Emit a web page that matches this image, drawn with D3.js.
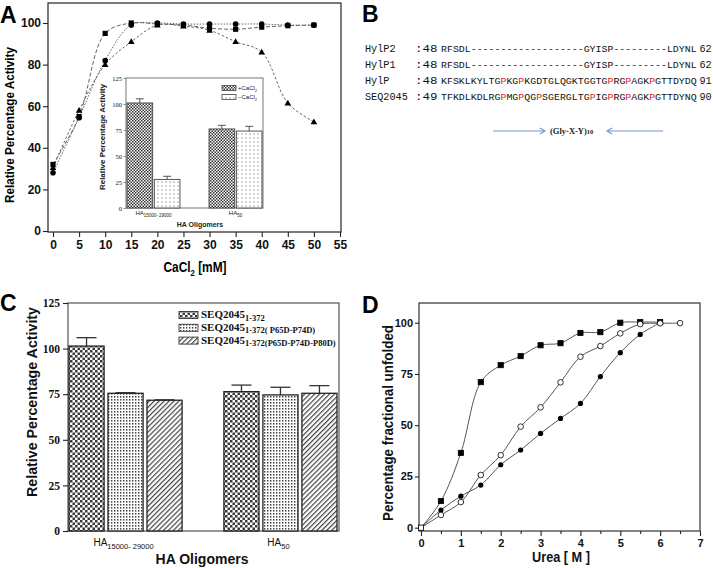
<!DOCTYPE html>
<html><head><meta charset="utf-8">
<script src="https://cdn.jsdelivr.net/npm/d3@7"></script>
<style>body{margin:0;background:#fff}svg{display:block}</style>
</head><body><svg id="c" width="713" height="568"></svg>
<script>
// ---------- Panel A data ----------
const caX = [0,5,10,15,20,25,30,35,40,45,50];
const caSquares   = [32,55,95,100,99.5,99,97.5,97,98,98.7,99];
const caCircles   = [28,54.5,82,99,100,99.5,99.5,99.5,99.5,99,99];
const caTriangles = [30.5,58,80,91,99,98.5,96.5,91,86,61.5,52.5];
const aXTicks = [0,5,10,15,20,25,30,35,40,45,50,55];
const aYTicks = [0,20,40,60,80,100];
// inset
const insetGroupMain = ["HA","HA"];
const insetGroupSub = ["15000- 29000","50"];
const insetSeries = ["+CaCl","\u2212CaCl"];
const insetPlus = [101,76];
const insetPlusErr = [4,3.5];
const insetMinus = [27.5,74];
const insetMinusErr = [3,4.5];
const insetYTicks = [0,25,50,75,100,125];
// ---------- Panel B data ----------
const seqNames = ["HylP2","HylP1","HylP","SEQ2045"];
const seqStart = [":48",":48",":48",":49"];
const seqs = [
 "RFSDL-------------------GYISP---------LDYNL",
 "RFSDL-------------------GYISP---------LDYNL",
 "KFSKLKYLTGPKGPKGDTGLQGKTGGTGPRGPAGKPGTTDYDQ",
 "TFKDLKDLRGPMGPQGPSGERGLTGPIGPRGPAGKPGTTDYNQ"];
const seqEnd = ["62","62","91","90"];
const highlightP = [false,false,true,true];
// ---------- Panel C data ----------
const cGroupMain = ["HA","HA"];
const cGroupSub = ["15000- 29000","50"];
const cSeriesMain = ["SEQ2045","SEQ2045","SEQ2045"];
const cSeriesSub = ["1-372","1-372( P65D-P74D)","1-372(P65D-P74D-P80D)"];
const cWT = [101.4,76.4], cWTErr = [4.6,3.6];
const cD2 = [75.5,74.6], cD2Err = [0.3,4.2];
const cD3 = [71.7,75.5], cD3Err = [0.2,4.2];
const cYTicks = [0,25,50,75,100,125];
// ---------- Panel D data ----------
const ureaX = [0,0.5,1,1.5,2,2.5,3,3.5,4,4.5,5,5.5,6,6.5];
const dSquares = [0,13,36.5,71,79.3,83.7,89,90,95,95.4,100,100.3,100.3];
const dOpen    = [0,6.2,12.5,25.7,35.4,49.3,58.7,70.9,83.4,88.6,94.8,99.3,99.7,99.8];
const dFilled  = [0,8.6,15.4,20.8,30.7,37.9,46,53.3,60.6,73.7,85.4,94.3,100];
const dXTicks = [0,1,2,3,4,5,6,7];
const dXMinor = [0.5,1.5,2.5,3.5,4.5,5.5,6.5];
const dYTicks = [0,25,50,75,100];

const SANS = "'Liberation Sans', Arial, sans-serif";
const SERIF = "'Liberation Serif', 'Times New Roman', serif";
const MONO = "'Liberation Mono', 'Courier New', monospace";

const svg = d3.select("#c");
svg.append("rect").attr("width",713).attr("height",568).attr("fill","#fff");
const defs = svg.append("defs");
function pat(id,w,h,build){const p=defs.append("pattern").attr("id",id).attr("width",w).attr("height",h).attr("patternUnits","userSpaceOnUse");p.append("rect").attr("width",w).attr("height",h).attr("fill","#fff");build(p);}
pat("checker",5,5,p=>{p.append("rect").attr("width",2.5).attr("height",2.5).attr("fill","#3a3a3a");p.append("rect").attr("x",2.5).attr("y",2.5).attr("width",2.5).attr("height",2.5).attr("fill","#3a3a3a");});
pat("checkerS",3,3,p=>{p.append("rect").attr("width",1.5).attr("height",1.5).attr("fill","#333");p.append("rect").attr("x",1.5).attr("y",1.5).attr("width",1.5).attr("height",1.5).attr("fill","#333");});
pat("griddot",3,3,p=>{p.append("rect").attr("width",1.4).attr("height",1.6).attr("fill","#444");});
pat("diag",3.5,3.5,p=>{p.attr("patternTransform","rotate(45)");p.append("rect").attr("width",1.2).attr("height",3.5).attr("fill","#444");});
pat("dots",4,4,p=>{p.append("rect").attr("x",1.5).attr("y",1.5).attr("width",1).attr("height",1).attr("fill","#555");});

function letter(t,x,y){svg.append("text").attr("x",x).attr("y",y).text(t).attr("font-family",SANS).attr("font-weight","bold").attr("font-size",23);}
letter("A",0,23);letter("B",362,22);letter("C",0,311);letter("D",362,313);

function styleAxis(g,fam,size,weight){g.select(".domain").remove();g.selectAll("line").attr("stroke","#222").attr("stroke-width",1.1);g.selectAll("text").attr("font-family",fam).attr("font-size",size).attr("font-weight",weight).attr("fill","#111");}

// ================= Panel A =================
{
 const ax = d3.scaleLinear().domain([0,55]).range([53,340]);
 const ay = d3.scaleLinear().domain([0,100]).range([231,23]);
 const gA = svg.append("g");
 gA.append("rect").attr("x",48).attr("y",3).attr("width",293).attr("height",229).attr("fill","none").attr("stroke","#333").attr("stroke-width",1.3);
 const xg = gA.append("g").attr("transform","translate(0,232)").call(d3.axisBottom(ax).tickValues(aXTicks).tickSize(5).tickSizeOuter(0).tickPadding(3));
 styleAxis(xg,SANS,12,"bold");
 const yg = gA.append("g").attr("transform","translate(48,0)").call(d3.axisLeft(ay).tickValues(aYTicks).tickSize(5).tickSizeOuter(0).tickPadding(2));
 styleAxis(yg,SANS,12,"bold");
 gA.append("text").attr("transform","translate(14,125) rotate(-90)").attr("text-anchor","middle").attr("font-family",SANS).attr("font-weight","bold").attr("font-size",13.5).attr("textLength",156).attr("lengthAdjust","spacingAndGlyphs").text("Relative Percentage Activity");
 const xt = gA.append("text").attr("transform","translate(195,272) scale(0.85,1)").attr("text-anchor","middle").attr("font-family",SANS).attr("font-weight","bold").attr("font-size",14);
 xt.append("tspan").text("CaCl");xt.append("tspan").attr("font-size",9).attr("dy",4).text("2");xt.append("tspan").attr("dy",-4).text(" [mM]");
 const line = d3.line().x((d,i)=>ax(caX[i])).y(d=>ay(d)).curve(d3.curveCatmullRom.alpha(0.5));
 const series = [[caSquares,"4,2","sq"],[caCircles,"1.5,1.5","ci"],[caTriangles,"2.5,2","tr"]];
 series.forEach(([vals,dash])=>gA.append("path").attr("d",line(vals)).attr("fill","none").attr("stroke","#666").attr("stroke-width",1).attr("stroke-dasharray",dash));
 series.forEach(([vals,dash,m])=>{
  vals.forEach((v,i)=>{const x=ax(caX[i]),y=ay(v);
   if(m==="sq")gA.append("rect").attr("x",x-2.6).attr("y",y-2.6).attr("width",5.2).attr("height",5.2).attr("fill","#000");
   else if(m==="ci")gA.append("circle").attr("cx",x).attr("cy",y).attr("r",2.8).attr("fill","#000");
   else gA.append("path").attr("d",`M${x},${y-3.4}L${x+3.3},${y+2.4}L${x-3.3},${y+2.4}Z`).attr("fill","#000");});
 });
 // inset
 const ix0=126, ix1=263, iy0=78, iy1=208;
 gA.append("rect").attr("x",ix0).attr("y",iy0).attr("width",ix1-ix0).attr("height",iy1-iy0).attr("fill","#fff").attr("stroke","#777").attr("stroke-width",1);
 const iy = d3.scaleLinear().domain([0,125]).range([iy1,iy0]);
 const ixb = d3.scaleBand().domain([0,1]).range([127,262]).paddingInner(0.354);
 const ixs = d3.scaleBand().domain([0,1]).range([0,ixb.bandwidth()]).paddingInner(0.06);
 const iyg = gA.append("g").attr("transform",`translate(${ix0},0)`).call(d3.axisLeft(iy).tickValues(insetYTicks).tickSize(2.5).tickSizeOuter(0).tickPadding(1.5));
 styleAxis(iyg,SERIF,6.5,"normal"); iyg.selectAll("line").attr("stroke","#777").attr("stroke-width",0.8);
 const insetData=[[insetPlus,insetPlusErr,"url(#checkerS)"],[insetMinus,insetMinusErr,"url(#dots)"]];
 insetData.forEach(([vals,errs,fill],s)=>{
  vals.forEach((v,gi)=>{const x=ixb(gi)+ixs(s), w=ixs.bandwidth();
   gA.append("line").attr("x1",x+w/2).attr("x2",x+w/2).attr("y1",iy(v)).attr("y2",iy(v+errs[gi])).attr("stroke","#555").attr("stroke-width",1);
   gA.append("line").attr("x1",x+w/2-4).attr("x2",x+w/2+4).attr("y1",iy(v+errs[gi])).attr("y2",iy(v+errs[gi])).attr("stroke","#555").attr("stroke-width",1);
   gA.append("rect").attr("x",x).attr("y",iy(v)).attr("width",w).attr("height",iy(0)-iy(v)).attr("fill",fill).attr("stroke","#444").attr("stroke-width",0.9);
  });
 });
 insetGroupMain.forEach((m,gi)=>{const t=gA.append("text").attr("x",ixb(gi)+ixb.bandwidth()/2).attr("y",215).attr("text-anchor","middle").attr("font-family",SANS).attr("font-size",6).attr("fill","#222");
  t.append("tspan").text(m);t.append("tspan").attr("font-size",4.5).attr("dy",1.8).text(insetGroupSub[gi]);});
 gA.append("text").attr("x",200).attr("y",227).attr("text-anchor","middle").attr("font-family",SANS).attr("font-weight","bold").attr("font-size",7).attr("fill","#222").text("HA Oligomers");
 gA.append("text").attr("transform","translate(105,137) rotate(-90)").attr("text-anchor","middle").attr("font-family",SANS).attr("font-weight","bold").attr("font-size",7.4).attr("textLength",106).attr("lengthAdjust","spacingAndGlyphs").attr("fill","#222").text("Relative Percentage Activity");
 insetSeries.forEach((s,i)=>{const y=88+i*9;
  gA.append("rect").attr("x",222).attr("y",y-2.5).attr("width",14).attr("height",5).attr("fill",i?"url(#dots)":"url(#checkerS)").attr("stroke","#444").attr("stroke-width",0.8);
  const t=gA.append("text").attr("x",238).attr("y",y+2.2).attr("font-family",SANS).attr("font-size",6).attr("fill","#222");
  t.append("tspan").text(s);t.append("tspan").attr("font-size",4).attr("dy",1.5).text("2");});
}

// ================= Panel B =================
{
 const gB = svg.append("g");
 const baseY=[51.8,67.6,84.4,100.2];
 seqNames.forEach((n,i)=>{
  const y=baseY[i];
  gB.append("text").attr("x",365).attr("y",y).attr("font-family",MONO).attr("font-size",10.2).attr("fill","#111").text(n);
  gB.append("text").attr("x",415).attr("y",y).attr("font-family",MONO).attr("font-size",10.2).attr("fill","#111").attr("textLength",22.5).attr("lengthAdjust","spacingAndGlyphs").text(seqStart[i]);
  const t=gB.append("text").attr("x",441).attr("y",y).attr("font-family",MONO).attr("font-size",9.92).attr("fill","#111");
  const runs=[];let cur="";let curRed=null;
  for(const ch of seqs[i]){const red=highlightP[i]&&ch==="P";if(curRed===null||red===curRed){cur+=ch;curRed=red;}else{runs.push([cur,curRed]);cur=ch;curRed=red;}}
  runs.push([cur,curRed]);
  runs.forEach(([s,red])=>t.append("tspan").attr("fill",red?"#e5231f":"#111").text(s));
  gB.append("text").attr("x",699.5).attr("y",y).attr("font-family",MONO).attr("font-size",10.2).attr("fill","#111").text(seqEnd[i]);
 });
 const ac="#6f9ccc";
 gB.append("path").attr("d","M493,131H545M540,128L545,131L540,134").attr("fill","none").attr("stroke",ac).attr("stroke-width",1.1);
 gB.append("path").attr("d","M663,131H607M612,128L607,131L612,134").attr("fill","none").attr("stroke",ac).attr("stroke-width",1.1);
 const gt=gB.append("text").attr("x",550).attr("y",134).attr("font-family",SERIF).attr("font-weight","bold").attr("font-size",8.5).attr("fill","#222");
 gt.append("tspan").text("(Gly-X-Y)");gt.append("tspan").attr("font-size",6.5).text("10");
}

// ================= Panel C =================
{
 const gC = svg.append("g");
 const cy = d3.scaleLinear().domain([0,125]).range([531,303]);
 const cxb = d3.scaleBand().domain([0,1]).range([69,337]).paddingInner(0.27);
 const cxs = d3.scaleBand().domain([0,1,2]).range([0,cxb.bandwidth()]).paddingInner(0.1);
 gC.append("rect").attr("x",68).attr("y",303).attr("width",271).attr("height",228).attr("fill","none").attr("stroke","#555").attr("stroke-width",1.2);
 const yg = gC.append("g").attr("transform","translate(68,0)").call(d3.axisLeft(cy).tickValues(cYTicks).tickSize(5).tickSizeOuter(0).tickPadding(3));
 styleAxis(yg,SERIF,11.5,"bold");
 const fills=["url(#checker)","url(#griddot)","url(#diag)"];
 const cData=[[cWT,cWTErr],[cD2,cD2Err],[cD3,cD3Err]];
 cData.forEach(([vals,errs],s)=>{
  vals.forEach((v,gi)=>{const x=cxb(gi)+cxs(s),w=cxs.bandwidth(),cx=x+w/2;
   gC.append("line").attr("x1",cx).attr("x2",cx).attr("y1",cy(v)).attr("y2",cy(v+errs[gi])).attr("stroke","#333").attr("stroke-width",1.3);
   gC.append("line").attr("x1",cx-10).attr("x2",cx+10).attr("y1",cy(v+errs[gi])).attr("y2",cy(v+errs[gi])).attr("stroke","#333").attr("stroke-width",1.3);
   gC.append("rect").attr("x",x).attr("y",cy(v)).attr("width",w).attr("height",cy(0)-cy(v)).attr("fill",fills[s]).attr("stroke","#222").attr("stroke-width",1.3);
  });
 });
 cGroupMain.forEach((m,gi)=>{const t=gC.append("text").attr("x",cxb(gi)+cxb.bandwidth()/2-2).attr("y",546).attr("text-anchor","middle").attr("font-family",SANS).attr("font-size",10).attr("fill","#111");
  t.append("tspan").text(m);t.append("tspan").attr("font-size",7.5).attr("dy",2.5).text(cGroupSub[gi]);});
 gC.append("text").attr("x",202).attr("y",564).attr("text-anchor","middle").attr("font-family",SANS).attr("font-weight","bold").attr("font-size",15).attr("textLength",93).attr("lengthAdjust","spacingAndGlyphs").attr("fill","#111").text("HA Oligomers");
 gC.append("text").attr("transform","translate(37,402) rotate(-90)").attr("text-anchor","middle").attr("font-family",SANS).attr("font-weight","bold").attr("font-size",15).attr("textLength",190).attr("lengthAdjust","spacingAndGlyphs").attr("fill","#111").text("Relative Percentage Activity");
 cSeriesMain.forEach((m,i)=>{const y=315+i*12.8;
  gC.append("rect").attr("x",179).attr("y",y-3.5).attr("width",19).attr("height",7).attr("fill",fills[i]).attr("stroke","#333").attr("stroke-width",0.9);
  const t=gC.append("text").attr("x",201).attr("y",y+3).attr("font-family",SERIF).attr("font-weight","bold").attr("font-size",11).attr("fill","#111");
  t.append("tspan").text(m);t.append("tspan").attr("font-size",8.5).attr("dy",2.5).text(cSeriesSub[i]);});
}

// ================= Panel D =================
{
 const gD = svg.append("g");
 const dx = d3.scaleLinear().domain([0,7]).range([421,700]);
 const dy = d3.scaleLinear().domain([0,100]).range([527.7,322.7]);
 gD.append("rect").attr("x",419).attr("y",303).attr("width",281).attr("height",228).attr("fill","none").attr("stroke","#333").attr("stroke-width",1.2);
 const xg = gD.append("g").attr("transform","translate(0,531)").call(d3.axisBottom(dx).tickValues(dXTicks).tickSize(5).tickSizeOuter(0).tickPadding(3).tickFormat(d3.format("d")));
 styleAxis(xg,SANS,11,"bold");
 const xm = gD.append("g").attr("transform","translate(0,531)").call(d3.axisBottom(dx).tickValues(dXMinor).tickSize(3).tickSizeOuter(0).tickFormat(""));
 styleAxis(xm,SANS,11,"bold");
 const yg = gD.append("g").attr("transform","translate(419,0)").call(d3.axisLeft(dy).tickValues(dYTicks).tickSize(4).tickSizeOuter(0).tickPadding(2));
 styleAxis(yg,SANS,11,"bold");
 gD.append("text").attr("x",561).attr("y",562).attr("text-anchor","middle").attr("font-family",SANS).attr("font-weight","bold").attr("font-size",14).attr("textLength",58).attr("lengthAdjust","spacingAndGlyphs").attr("fill","#111").text("Urea  [ M ]");
 gD.append("text").attr("transform","translate(393,423) rotate(-90)").attr("text-anchor","middle").attr("font-family",SANS).attr("font-weight","bold").attr("font-size",14).attr("textLength",196).attr("lengthAdjust","spacingAndGlyphs").attr("fill","#111").text("Percentage fractional unfolded");
 const line = d3.line().x((d,i)=>dx(ureaX[i])).y(d=>dy(d)).curve(d3.curveCatmullRom.alpha(0.5));
 [dSquares,dOpen,dFilled].forEach(v=>gD.append("path").attr("d",line(v)).attr("fill","none").attr("stroke","#555").attr("stroke-width",1));
 dFilled.forEach((v,i)=>gD.append("circle").attr("cx",dx(ureaX[i])).attr("cy",dy(v)).attr("r",2.6).attr("fill","#000"));
 dSquares.forEach((v,i)=>gD.append("rect").attr("x",dx(ureaX[i])-2.6).attr("y",dy(v)-2.6).attr("width",5.2).attr("height",5.2).attr("fill",i===0?"#fff":"#000").attr("stroke","#000").attr("stroke-width",0.8));
 dOpen.forEach((v,i)=>{if(i>0)gD.append("circle").attr("cx",dx(ureaX[i])).attr("cy",dy(v)).attr("r",2.8).attr("fill","#fff").attr("stroke","#000").attr("stroke-width",0.8);});
}
</script></body></html>
